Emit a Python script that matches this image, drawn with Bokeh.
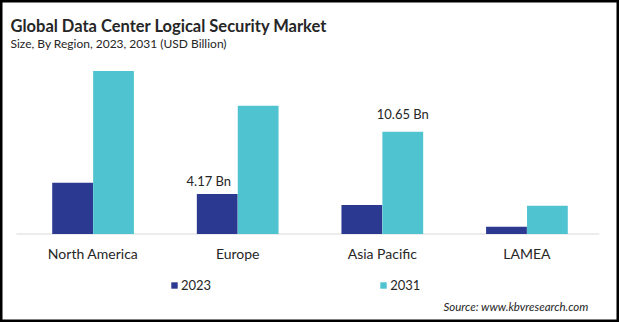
from bokeh.plotting import figure
from bokeh.models import Range1d, FactorRange, Label, ColumnDataSource
from bokeh.transform import dodge
from bokeh.core.properties import value
from bokeh.embed import file_html
from bokeh.resources import INLINE

regions = ["North America", "Europe", "Asia Pacific", "LAMEA"]
v2023 = [5.34, 4.17, 3.02, 0.76]
v2031 = [16.98, 13.36, 10.65, 2.95]
years = ["2023", "2031"]
title = "Global Data Center Logical Security Market"
subtitle = "Size, By Region, 2023, 2031 (USD Billion)"
source_txt = "Source: www.kbvresearch.com"
callouts_region = ["Europe", "Asia Pacific"]
callouts_val = [4.17, 10.65]
callouts_txt = ["4.17 Bn", "10.65 Bn"]

C1 = "#2B3990"
C2 = "#4FC3CF"
FONT = "Lato"
TXT = "#262626"

W, H = 619, 322
PXU = 9.6          # pixels per billion
BASE = 233.5       # baseline from top

p = figure(width=W, height=H, output_backend="svg", toolbar_location=None,
           x_range=FactorRange(factors=regions, range_padding=0.14,
                               range_padding_units="absolute"),
           y_range=Range1d(-(H - BASE) / PXU, BASE / PXU),
           x_axis_location=None, y_axis_location=None, min_border=0)
p.xgrid.grid_line_color = None
p.ygrid.grid_line_color = None
p.background_fill_color = "white"
p.border_fill_color = "white"
p.outline_line_color = "black"
p.outline_line_width = 4
p.outline_line_join = "miter"

src = ColumnDataSource(dict(region=regions, v2023=v2023, v2031=v2031))

# baseline
p.segment(x0=[(regions[0], -0.53)], y0=[0], x1=[(regions[-1], 0.5)], y1=[0],
          line_color="#D9D9D9", line_width=1)

p.vbar(x=dodge("region", -0.1415, range=p.x_range), top="v2023", width=0.282,
       source=src, fill_color=C1, line_color=None, legend_label=years[0])
p.vbar(x=dodge("region", 0.1415, range=p.x_range), top="v2031", width=0.282,
       source=src, fill_color=C2, line_color=None, legend_label=years[1])

# category labels
p.text(x=regions, y=[0] * len(regions), text=regions, y_offset=19.5,
       text_align="center", text_baseline="middle",
       text_font=value(FONT), text_font_size="14px", text_color=TXT)

# callouts
p.text(x=[(callouts_region[0], -0.1415 - 0.058)],
       y=[callouts_val[0]], text=[callouts_txt[0]], y_offset=-5,
       text_align="center", text_baseline="bottom",
       text_font=value(FONT), text_font_size="13px", text_color=TXT)
p.text(x=[(callouts_region[1], 0.1415)], y=[callouts_val[1]],
       text=[callouts_txt[1]], y_offset=-10,
       text_align="center", text_baseline="bottom",
       text_font=value(FONT), text_font_size="13px", text_color=TXT)

p.add_layout(Label(x=10, y=H - 25, x_units="screen", y_units="screen",
                   text=title, text_font=FONT, text_font_size="16.5px",
                   text_font_style="bold", text_color=TXT,
                   text_baseline="alphabetic"))
p.add_layout(Label(x=10, y=H - 43, x_units="screen", y_units="screen",
                   text=subtitle, text_font=FONT, text_font_size="12px",
                   text_color=TXT, text_baseline="alphabetic"))
p.add_layout(Label(x=588, y=16, x_units="screen", y_units="screen",
                   text=source_txt, text_font=FONT, text_font_size="11.5px",
                   text_font_style="italic", text_color=TXT,
                   text_align="right", text_baseline="alphabetic"))

lg = p.legend[0]
lg.orientation = "horizontal"
lg.location = (170, 29)
lg.glyph_width = 8
lg.glyph_height = 8
lg.label_standoff = 3
lg.label_height = 14
lg.label_width = 20
lg.spacing = 168
lg.padding = 0
lg.margin = 0
lg.border_line_color = None
lg.background_fill_alpha = 0
lg.label_text_font = FONT
lg.label_text_font_size = "13px"
lg.label_text_color = TXT

open("out.html", "w").write(file_html(p, INLINE))
